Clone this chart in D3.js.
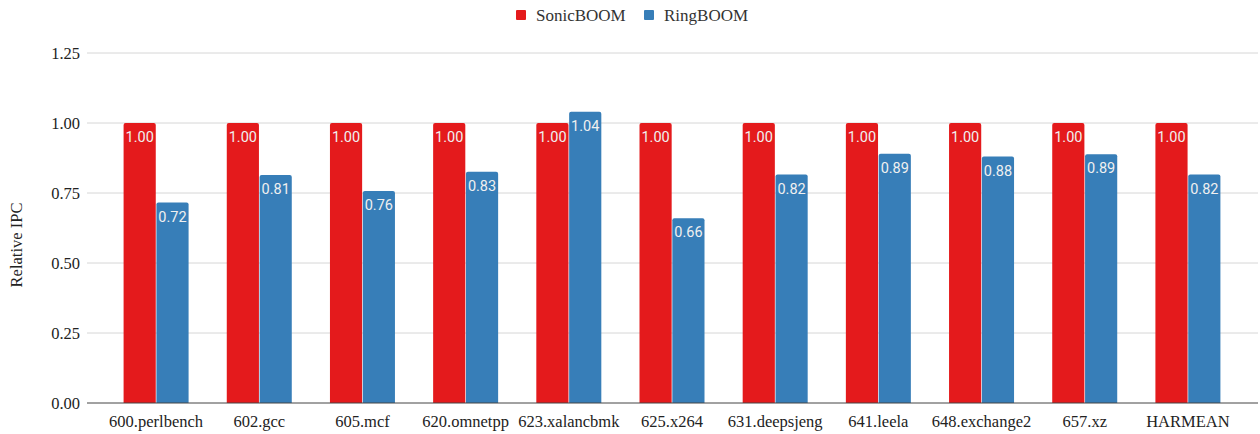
<!DOCTYPE html>
<html>
<head>
<meta charset="utf-8">
<script src="https://cdn.jsdelivr.net/npm/d3@7"></script>
<style>
  body { margin: 0; background: #fff; }
</style>
</head>
<body>
<div id="chart"></div>
<script>
var benchmarks = ['600.perlbench', '602.gcc', '605.mcf', '620.omnetpp', '623.xalancbmk', '625.x264',
  '631.deepsjeng', '641.leela', '648.exchange2', '657.xz', 'HARMEAN'];
var seriesNames = ['SonicBOOM', 'RingBOOM'];
var sonicValues = [1.00, 1.00, 1.00, 1.00, 1.00, 1.00, 1.00, 1.00, 1.00, 1.00, 1.00];
var ringValues = [0.716, 0.814, 0.757, 0.826, 1.04, 0.66, 0.816, 0.89, 0.88, 0.888, 0.816];
var yTicks = [0, 0.25, 0.5, 0.75, 1.0, 1.25];
var colors = ['#e41a1c', '#377eb8'];

var W = 1260, H = 434;
var serif = "'Liberation Serif', 'Times New Roman', serif";
var svg = d3.select('#chart').append('svg').attr('width', W).attr('height', H);

var gridLeft = 87, gridRight = 1258;
var x0 = d3.scaleBand().domain(benchmarks).range([104.5, 1239.5]).paddingInner(0).paddingOuter(0);
var x1 = d3.scaleBand().domain(seriesNames).range([0, 65]).paddingInner(0.02);
var y = d3.scaleLinear().domain([0, 1.25]).range([403, 53]);

// grid lines
svg.append('g').selectAll('line').data(yTicks.filter(function(t) { return t > 0; }))
  .enter().append('line')
  .attr('x1', gridLeft).attr('x2', gridRight)
  .attr('y1', function(d) { return y(d); }).attr('y2', function(d) { return y(d); })
  .attr('stroke', '#d6d6d6').attr('stroke-width', 1);

// y axis labels
var yAxis = svg.append('g').attr('transform', 'translate(' + gridLeft + ',0)')
  .call(d3.axisLeft(y).tickValues(yTicks).tickFormat(d3.format('.2f')).tickSize(0).tickPadding(7));
yAxis.select('.domain').remove();
yAxis.selectAll('text').style('font-family', serif).style('font-size', '16.5px').style('fill', '#222');

svg.append('text')
  .attr('transform', 'translate(22,245) rotate(-90)')
  .attr('text-anchor', 'middle')
  .style('font-family', serif).style('font-size', '16.5px').style('fill', '#222')
  .text('Relative IPC');

var data = benchmarks.map(function(b, i) {
  return { name: b, values: [{ key: seriesNames[0], v: sonicValues[i] }, { key: seriesNames[1], v: ringValues[i] }] };
});

function topRounded(x, yTop, w, h, r) {
  return 'M' + x + ',' + (yTop + h) + 'V' + (yTop + r) + 'Q' + x + ',' + yTop + ' ' + (x + r) + ',' + yTop +
    'H' + (x + w - r) + 'Q' + (x + w) + ',' + yTop + ' ' + (x + w) + ',' + (yTop + r) + 'V' + (yTop + h) + 'Z';
}

var groups = svg.selectAll('.group').data(data).enter().append('g')
  .attr('class', 'group')
  .attr('transform', function(d) { return 'translate(' + (x0(d.name) + (x0.bandwidth() - 65) / 2) + ',0)'; });

groups.selectAll('path').data(function(d) { return d.values; }).enter().append('path')
  .attr('d', function(d) { return topRounded(x1(d.key), y(d.v), x1.bandwidth(), y(0) - y(d.v), 2); })
  .attr('fill', function(d, i) { return colors[i]; });

groups.selectAll('text.val').data(function(d) { return d.values; }).enter().append('text')
  .attr('class', 'val')
  .attr('x', function(d) { return x1(d.key) + x1.bandwidth() / 2; })
  .attr('y', function(d) { return y(d.v) + 19; })
  .attr('text-anchor', 'middle')
  .style('font-family', 'Roboto, sans-serif').style('font-size', '14.5px').style('fill', '#f0f0f0')
  .text(function(d) { return d3.format('.2f')(d.v); });

// x axis
var xAxis = svg.append('g').attr('transform', 'translate(0,' + y(0) + ')')
  .call(d3.axisBottom(x0).tickSize(0).tickPadding(12));
xAxis.select('.domain').remove();
xAxis.selectAll('text').style('font-family', serif).style('font-size', '16.5px').style('fill', '#222');
svg.append('line').attr('x1', gridLeft).attr('x2', gridRight).attr('y1', y(0)).attr('y2', y(0))
  .attr('stroke', '#444').attr('stroke-width', 1);

// legend
var legend = svg.append('g').attr('transform', 'translate(516,0)');
var legendX = [0, 128];
seriesNames.forEach(function(s, i) {
  var lg = legend.append('g').attr('transform', 'translate(' + legendX[i] + ',0)');
  lg.append('rect').attr('x', 0).attr('y', 10).attr('width', 10).attr('height', 10).attr('rx', 1).attr('fill', colors[i]);
  lg.append('text').attr('x', 20).attr('y', 21)
    .style('font-family', serif).style('font-size', '17px').style('fill', '#333')
    .text(s);
});
</script>
</body>
</html>
